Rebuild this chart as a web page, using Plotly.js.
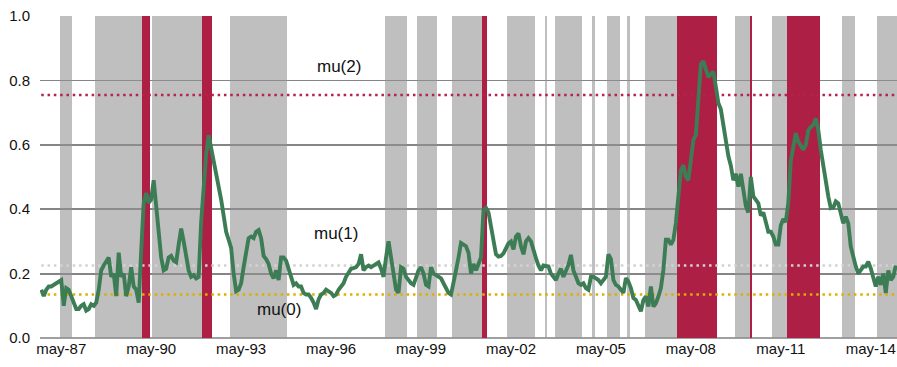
<!DOCTYPE html>
<html>
<head>
<meta charset="utf-8">
<script src="https://cdn.plot.ly/plotly-3.0.1.min.js"></script>
<style>html,body{margin:0;padding:0;background:#fff;}#chart{width:897px;height:367px;}</style>
</head>
<body>
<div id="chart"></div>
<script>
// Monthly observations, first month = Sep 1986
const startYear = 1986, startMonth = 9;

const values = [
  0.15,0.13,0.15,0.16,0.16,0.165,0.17,0.175,0.18,0.10,
  0.155,0.15,0.13,0.11,0.09,0.09,0.10,0.105,0.085,0.09,
  0.105,0.10,0.11,0.15,0.21,0.225,0.24,0.25,0.19,0.20,
  0.13,0.265,0.19,0.20,0.13,0.16,0.22,0.16,0.15,0.11,
  0.27,0.42,0.45,0.42,0.43,0.49,0.41,0.33,0.25,0.21,
  0.215,0.25,0.255,0.24,0.235,0.29,0.34,0.30,0.25,0.21,
  0.19,0.195,0.185,0.19,0.36,0.48,0.57,0.63,0.59,0.555,
  0.51,0.48,0.43,0.38,0.33,0.305,0.28,0.20,0.145,0.15,
  0.17,0.22,0.27,0.31,0.315,0.31,0.33,0.335,0.31,0.255,
  0.245,0.23,0.20,0.185,0.21,0.18,0.25,0.25,0.24,0.21,
  0.19,0.165,0.17,0.16,0.16,0.14,0.135,0.135,0.125,0.11,
  0.09,0.12,0.135,0.14,0.15,0.145,0.14,0.13,0.135,0.15,
  0.16,0.17,0.19,0.205,0.215,0.217,0.22,0.23,0.26,0.21,
  0.22,0.225,0.22,0.225,0.23,0.235,0.215,0.19,0.25,0.30,
  0.25,0.19,0.15,0.14,0.22,0.215,0.19,0.18,0.17,0.165,
  0.19,0.21,0.22,0.20,0.165,0.16,0.22,0.20,0.195,0.19,
  0.185,0.17,0.155,0.14,0.135,0.18,0.21,0.25,0.295,0.29,
  0.285,0.265,0.20,0.23,0.21,0.23,0.25,0.397,0.404,0.39,
  0.35,0.315,0.26,0.253,0.255,0.263,0.28,0.294,0.30,0.275,
  0.315,0.325,0.285,0.26,0.30,0.31,0.30,0.27,0.248,0.225,
  0.21,0.225,0.225,0.222,0.20,0.19,0.18,0.20,0.215,0.19,
  0.206,0.227,0.258,0.21,0.19,0.17,0.165,0.17,0.155,0.15,
  0.19,0.19,0.185,0.18,0.17,0.18,0.19,0.26,0.245,0.18,
  0.165,0.16,0.15,0.14,0.186,0.175,0.155,0.124,0.118,0.098,
  0.083,0.118,0.129,0.098,0.16,0.098,0.108,0.129,0.155,0.212,
  0.305,0.305,0.29,0.305,0.357,0.44,0.52,0.537,0.50,0.49,
  0.565,0.615,0.63,0.76,0.85,0.86,0.83,0.81,0.82,0.827,
  0.78,0.73,0.71,0.66,0.60,0.565,0.535,0.49,0.51,0.47,
  0.51,0.46,0.41,0.39,0.50,0.44,0.43,0.418,0.38,0.39,
  0.36,0.33,0.33,0.315,0.29,0.29,0.35,0.37,0.36,0.42,
  0.55,0.59,0.636,0.61,0.595,0.585,0.60,0.645,0.655,0.662,
  0.682,0.646,0.584,0.532,0.48,0.44,0.403,0.405,0.424,0.418,
  0.387,0.356,0.377,0.356,0.284,0.248,0.222,0.20,0.21,0.222,
  0.222,0.237,0.216,0.19,0.16,0.19,0.165,0.20,0.14,0.21,
  0.18,0.19,0.225
];

// Regime of each month: 0 = white, 1 = grey, 2 = red
const regime = [
  0,0,0,0,0,0,0,0,1,1,
  1,1,1,0,0,0,0,0,0,0,
  0,0,1,1,1,1,1,1,1,1,
  1,1,1,1,1,1,1,1,1,1,
  1,2,2,2,0,1,1,1,1,1,
  1,1,1,1,1,1,1,1,1,1,
  1,1,1,1,1,2,2,2,2,0,
  0,0,0,0,0,0,1,1,1,1,
  1,1,1,1,1,1,1,1,1,1,
  1,1,1,1,1,1,1,1,1,0,
  0,0,0,0,0,0,0,0,0,0,
  0,0,0,0,0,0,0,0,0,0,
  0,0,0,0,0,0,0,0,0,0,
  0,0,0,0,0,0,0,0,1,1,
  1,1,1,1,1,1,1,0,0,0,
  0,1,1,1,1,1,1,1,1,0,
  0,0,0,0,0,1,1,1,1,1,
  1,1,1,1,1,1,1,2,2,0,
  0,0,0,0,0,0,0,1,1,1,
  1,1,1,1,1,1,1,1,0,0,
  0,0,1,0,0,0,1,1,1,1,
  1,1,1,1,1,1,1,0,0,0,
  0,1,0,0,0,0,0,1,1,1,
  1,1,0,0,0,1,0,0,0,0,
  0,0,1,1,1,1,1,1,1,1,
  1,1,1,1,1,2,2,2,2,2,
  2,2,2,2,2,2,2,2,2,2,
  2,0,0,0,0,0,0,0,1,1,
  1,1,1,1,2,0,0,0,0,0,
  0,0,0,1,1,1,1,1,1,2,
  2,2,2,2,2,2,2,2,2,2,
  2,2,0,0,0,0,0,0,0,0,
  0,1,1,1,1,1,0,0,0,0,
  0,0,0,0,0,1,1,1,1,1,
  1,1,1
];

const muNames  = ["mu(0)", "mu(1)", "mu(2)"];
const muLevels = [0.135, 0.225, 0.755];

const tickMonths = ["1987-05","1990-05","1993-05","1996-05","1999-05","2002-05","2005-05","2008-05","2011-05","2014-05"];
const tickLabels = ["may-87","may-90","may-93","may-96","may-99","may-02","may-05","may-08","may-11","may-14"];

// build month categories
const categories = values.map((_, i) => {
  const m = startMonth - 1 + i;
  const y = startYear + Math.floor(m / 12);
  const mm = (m % 12) + 1;
  return y + "-" + (mm < 10 ? "0" + mm : mm);
});

const greyY = regime.map(r => r === 1 ? 1 : null);
const redY  = regime.map(r => r === 2 ? 1 : null);

const FONT = "Liberation Sans, Arial, Helvetica, sans-serif";
const muColors = ["#ddb000", "#d2d2d2", "#b5224a"];

const traces = [
  {type: "bar", x: categories, y: greyY, marker: {color: "rgba(145,145,145,0.58)", line: {width: 0}}, hoverinfo: "skip", showlegend: false},
  {type: "bar", x: categories, y: redY, marker: {color: "#ad1f45", line: {width: 0}}, hoverinfo: "skip", showlegend: false}
];
muLevels.forEach((mu, k) => {
  traces.push({type: "scatter", mode: "lines", x: categories, y: categories.map(() => mu),
    line: {color: muColors[k], width: 2.5, dash: "2.5px,3.8px"}, hoverinfo: "skip", showlegend: false});
});
traces.push({type: "scatter", mode: "lines", x: categories, y: values,
  line: {color: "#3d7d55", width: 3.9}, showlegend: false});

const labelPos = [
  {cat: 95, y: 0.087},
  {cat: 118, y: 0.326},
  {cat: 119, y: 0.844}
];

const layout = {
  width: 897, height: 367,
  margin: {l: 40, r: 0, t: 16, b: 29, pad: 0},
  paper_bgcolor: "#ffffff", plot_bgcolor: "#ffffff",
  bargap: 0, barmode: "overlay",
  font: {family: FONT, size: 15, color: "#111"},
  xaxis: {
    type: "category", range: [-0.5, values.length - 0.5],
    tickmode: "array", tickvals: tickMonths, ticktext: tickLabels,
    showgrid: false, zeroline: false, showline: false, ticks: "",
    tickfont: {family: FONT, size: 15, color: "#111"}
  },
  yaxis: {
    range: [0, 1], dtick: 0.2, tick0: 0, tickformat: ".1f",
    showgrid: true, gridcolor: "#858585", gridwidth: 1.8,
    zeroline: true, zerolinecolor: "#a0a0a0", zerolinewidth: 1.5,
    showline: false, ticks: "", ticklabelstandoff: 9,
    tickfont: {family: FONT, size: 15, color: "#111"}
  },
  annotations: muNames.map((n, k) => ({
    x: categories[labelPos[k].cat], y: labelPos[k].y, xref: "x", yref: "y",
    text: n, showarrow: false, font: {family: FONT, size: 17, color: "#111"}
  }))
};

Plotly.newPlot("chart", traces, layout, {staticPlot: true, displayModeBar: false});
</script>
</body>
</html>
